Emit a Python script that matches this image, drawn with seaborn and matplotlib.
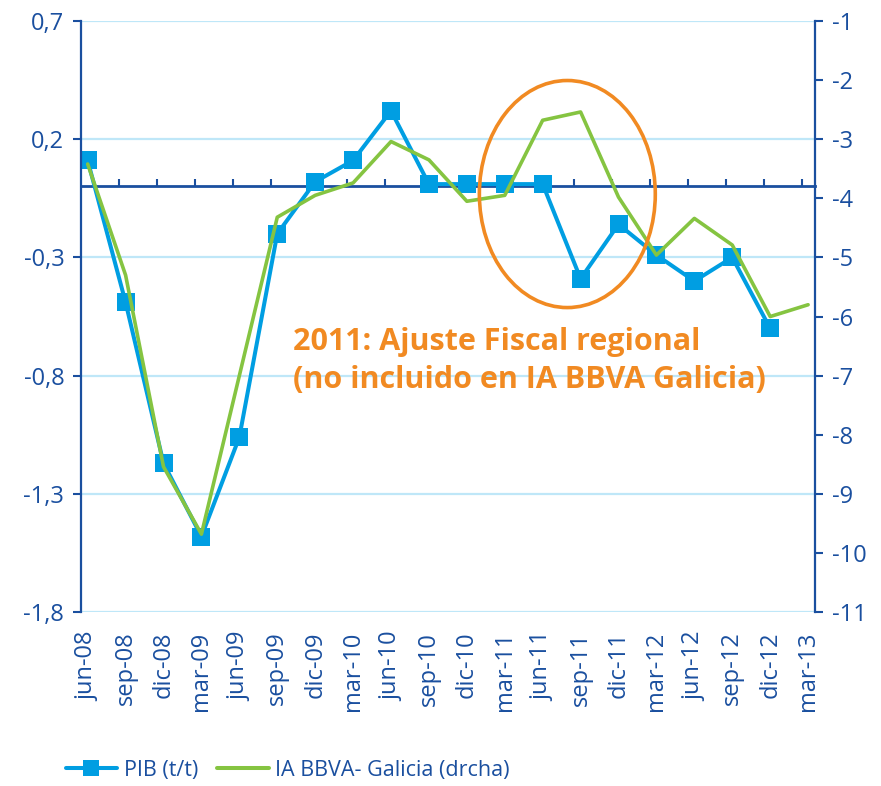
import numpy as np
import pandas as pd
import matplotlib
matplotlib.use("Agg")
import matplotlib.pyplot as plt
import seaborn as sns
from matplotlib.patches import Ellipse
from matplotlib.lines import Line2D

# ---------------- data ----------------
categories = ["jun-08", "sep-08", "dic-08", "mar-09", "jun-09", "sep-09", "dic-09",
              "mar-10", "jun-10", "sep-10", "dic-10", "mar-11", "jun-11", "sep-11",
              "dic-11", "mar-12", "jun-12", "sep-12", "dic-12", "mar-13"]
pib = [0.11, -0.49, -1.17, -1.48, -1.06, -0.20, 0.02, 0.11, 0.32, 0.01,
       0.01, 0.01, 0.01, -0.39, -0.16, -0.29, -0.40, -0.30, -0.60]
ia_galicia = [-3.42, -5.30, -8.54, -9.68, -7.00, -4.32, -3.95, -3.74, -3.04, -3.35,
              -4.05, -3.95, -2.68, -2.54, -3.98, -4.96, -4.34, -4.79, -6.00, -5.80]
left_ticks = [-1.8, -1.3, -0.8, -0.3, 0.2, 0.7]
left_labels = ["-1,8", "-1,3", "-0,8", "-0,3", "0,2", "0,7"]
right_ticks = [-11, -10, -9, -8, -7, -6, -5, -4, -3, -2, -1]
right_labels = ["-11", "-10", "-9", "-8", "-7", "-6", "-5", "-4", "-3", "-2", "-1"]
label_pib = "PIB (t/t)"
label_ia = "IA BBVA- Galicia (drcha)"
note_line1 = "2011: Ajuste Fiscal regional"
note_line2 = "(no incluido en IA BBVA Galicia)"

# ---------------- style ----------------
sns.set_theme(style="white")
plt.rcParams["font.family"] = ["Open Sans", "DejaVu Sans"]

DARK = "#1a4f9f"
BLUE = "#009ee2"
GREEN = "#85c441"
ORANGE = "#f18a22"
GRID = "#bfe7f8"

df_pib = pd.DataFrame({"pos": np.arange(len(pib)), "value": pib})
df_ia = pd.DataFrame({"pos": np.arange(len(ia_galicia)), "value": ia_galicia})

fig = plt.figure(figsize=(8.81, 7.86), dpi=100)
ax = fig.add_axes([0.0919, 0.2211, 0.8331, 0.7523])
ax2 = ax.twinx()

sns.lineplot(data=df_pib, x="pos", y="value", ax=ax, color=BLUE, linewidth=2.9,
             marker="s", markersize=13, markeredgewidth=0, legend=False)
sns.lineplot(data=df_ia, x="pos", y="value", ax=ax2, color=GREEN, linewidth=2.6,
             legend=False)

ax.set_xlim(-0.177, 19.18)
ax.set_ylim(-1.8, 0.7)
ax2.set_ylim(-11, -1)

# gridlines
for t in left_ticks:
    ax.axhline(t, color=GRID, linewidth=1.6, zorder=0)

# left axis
ax.set_yticks(left_ticks)
ax.set_yticklabels(left_labels)
ax.tick_params(axis="y", direction="out", length=6, width=1.5, color=DARK,
               labelcolor=DARK, labelsize=17, pad=6, left=True)
# right axis
ax2.set_yticks(right_ticks)
ax2.set_yticklabels(right_labels)
ax2.tick_params(axis="y", direction="out", length=6, width=1.5, color=DARK,
                labelcolor=DARK, labelsize=17, pad=6, right=True)

# x axis labels at bottom
ax.set_xticks(np.arange(len(categories)))
ax.set_xticklabels(categories, rotation=90)
ax.tick_params(axis="x", length=0, labelcolor=DARK, labelsize=17, pad=14)
ax.set_xlabel("")
ax.set_ylabel("")
ax2.set_ylabel("")

for a in (ax, ax2):
    a.spines["top"].set_visible(False)
    a.spines["bottom"].set_visible(False)
    a.spines["left"].set_color(DARK)
    a.spines["right"].set_color(DARK)
    a.spines["left"].set_linewidth(1.6)
    a.spines["right"].set_linewidth(1.6)
ax.spines["right"].set_visible(False)
ax2.spines["left"].set_visible(False)
ax.set_facecolor("white")

# zero line acting as category axis with ticks
zero_frac = (0 - (-1.8)) / (0.7 - (-1.8))
sec = ax.secondary_xaxis(zero_frac)
sec.set_xticks(np.arange(1, len(categories)) - 0.17)
sec.set_xticklabels([])
for sp in sec.spines.values():
    sp.set_color(DARK)
    sp.set_edgecolor(DARK)
    sp.set_linewidth(2.0)
sec.tick_params(axis="x", direction="out", length=5, width=1.5, color=DARK)

# annotation ellipse and text
ax2.add_patch(Ellipse((12.65, -3.0 - (0.2 + 0.032) * 4), width=4.64, height=0.96 * 4,
                      fill=False, edgecolor=ORANGE, linewidth=2.6, zorder=5))
ax.text(5.42, -0.69, note_line1, color=ORANGE, fontsize=22, fontweight="bold",
        va="baseline", ha="left", zorder=6)
ax.text(5.42, -0.852, note_line2, color=ORANGE, fontsize=22, fontweight="bold",
        va="baseline", ha="left", zorder=6)

# legend
handles = [Line2D([0], [0], color=BLUE, linewidth=2.9, marker="s", markersize=11,
                  markeredgewidth=0),
           Line2D([0], [0], color=GREEN, linewidth=2.9)]
leg = fig.legend(handles, [label_pib, label_ia], loc="lower left",
                 bbox_to_anchor=(0.072, 0.004), ncol=2, frameon=False,
                 fontsize=15.5, handlelength=2.4, handletextpad=0.3,
                 columnspacing=0.9, borderpad=0.1, borderaxespad=0)
for t in leg.get_texts():
    t.set_color(DARK)

fig.savefig("out.png", dpi=100)
